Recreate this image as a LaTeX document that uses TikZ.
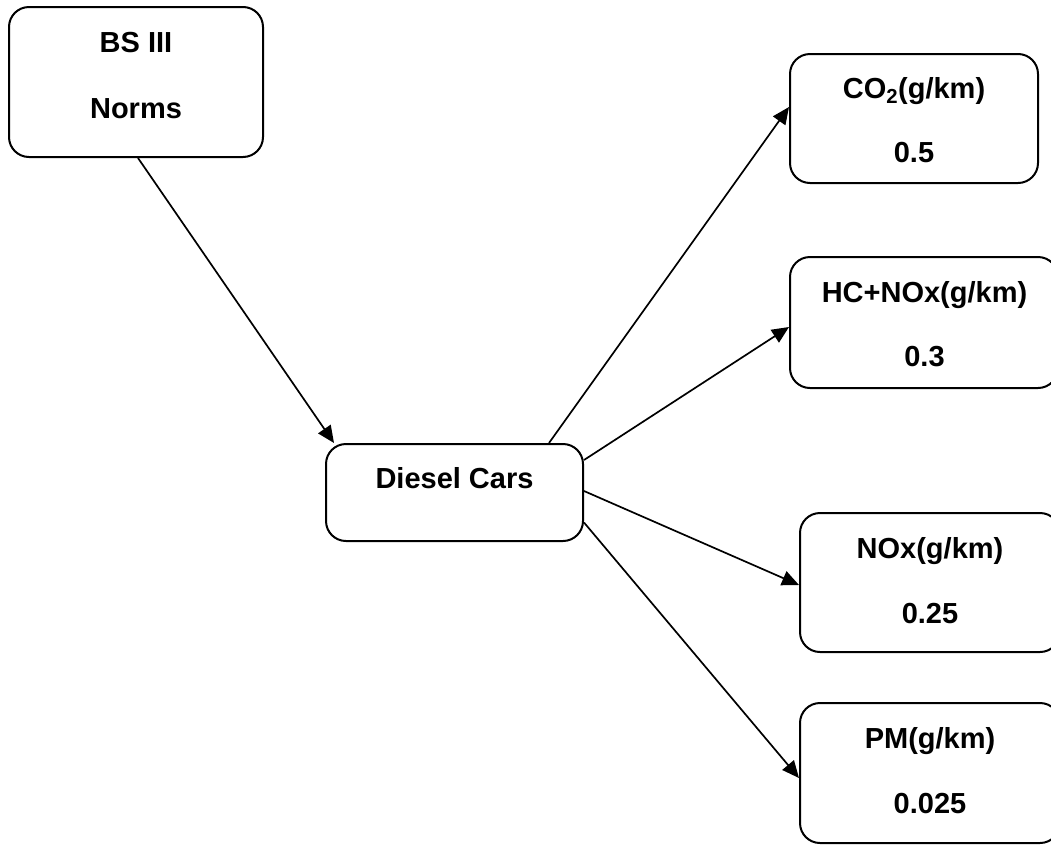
\documentclass[tikz,border=0pt]{standalone}
\usepackage{fontspec}
\setmainfont{Liberation Sans}
\usetikzlibrary{arrows.meta}
\begin{document}
\begin{tikzpicture}[x=1pt,y=-1pt,
  box/.style={draw, line width=2pt, rounded corners=20pt, inner sep=0pt},
  txt/.style={anchor=base, inner sep=0pt, font=\fontsize{29}{35}\selectfont\bfseries},
  conn/.style={line width=1.7pt, -{Triangle[length=17pt,width=15pt]}}]
\useasboundingbox (0,0) rectangle (1051,844);
% boxes
\node[box, minimum width=254pt, minimum height=150pt] (bs) at (136,82) {};
\node[box, minimum width=257pt, minimum height=97pt] (diesel) at (454.5,492.5) {};
\node[box, minimum width=248pt, minimum height=129pt] (co2) at (914,118.5) {};
\node[box, minimum width=268pt, minimum height=131pt] (hc) at (924,322.5) {};
\node[box, minimum width=260pt, minimum height=139pt] (nox) at (930,582.5) {};
\node[box, minimum width=260pt, minimum height=140pt] (pm) at (930,773) {};
% texts
\node[txt] (bs1) at (136,52) {BS III};
\node[txt] (bs2) at (136,118) {Norms};
\node[txt] (d1) at (454.5,488) {Diesel Cars};
\node[txt] (c1) at (914,98) {CO\textsubscript{2}(g/km)};
\node[txt] (c2) at (914,162) {0.5};
\node[txt] (h1) at (924.5,302) {HC+NOx(g/km)};
\node[txt] (h2) at (924.5,366) {0.3};
\node[txt] (n1) at (930,558) {NOx(g/km)};
\node[txt] (n2) at (930,623) {0.25};
\node[txt] (p1) at (930,748) {PM(g/km)};
\node[txt] (p2) at (930,813) {0.025};
% connectors
\draw[conn] ([xshift=2pt]bs.south) -- ([xshift=9pt]diesel.north west);
\draw[conn] ([xshift=-35pt]diesel.north east) -- ([yshift=11.5pt]co2.west);
\draw[conn] ([yshift=32.5pt]diesel.east) -- ([yshift=-4.5pt]hc.west);
\draw[conn] ([yshift=1.5pt]diesel.east) -- ([yshift=-2.5pt]nox.west);
\draw[conn] ([yshift=-30pt]diesel.east) -- ([yshift=-5pt]pm.west);
\end{tikzpicture}
\end{document}
